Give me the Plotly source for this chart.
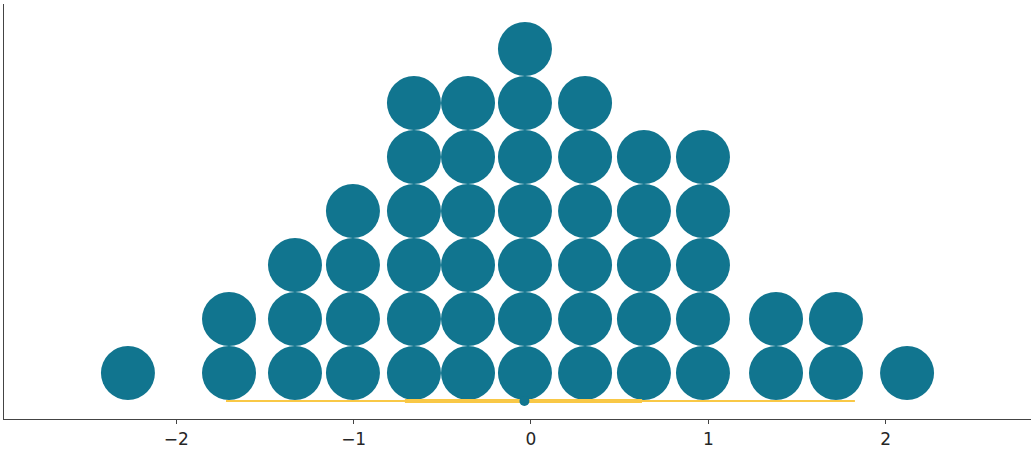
import plotly.graph_objects as go

# Dot plot data (bin centers and number of stacked dots)
dot_x = [-2.273, -1.703, -1.331, -1.004, -0.660, -0.355, -0.034, 0.305, 0.637, 0.970, 1.382, 1.720, 2.121]
dot_counts = [1, 2, 3, 4, 6, 6, 7, 6, 5, 5, 2, 2, 1]

# Point estimate and intervals
point_estimate = -0.037
inner_interval = [-0.711, 0.626]
outer_interval = [-1.72, 1.827]
interval_level = -0.52

tick_vals = [-2, -1, 0, 1, 2]
tick_text = ["\u22122", "\u22121", "0", "1", "2"]

xs, ys = [], []
for x, c in zip(dot_x, dot_counts):
    for k in range(c):
        xs.append(x)
        ys.append(k)

teal = "#11758F"
yellow = "#F9C846"

fig = go.Figure()
fig.add_trace(go.Scatter(x=xs, y=ys, mode="markers",
                         marker=dict(size=54, color=teal, line=dict(width=0)),
                         hoverinfo="x", showlegend=False))
fig.add_trace(go.Scatter(x=outer_interval, y=[interval_level] * 2, mode="lines",
                         line=dict(color=yellow, width=2), showlegend=False))
fig.add_trace(go.Scatter(x=inner_interval, y=[interval_level] * 2, mode="lines",
                         line=dict(color=yellow, width=4), showlegend=False))
fig.add_trace(go.Scatter(x=[point_estimate], y=[interval_level], mode="markers",
                         marker=dict(size=10, color=teal, line=dict(width=0)),
                         cliponaxis=False, showlegend=False))

fig.update_layout(
    width=1035, height=450,
    margin=dict(l=4, r=4, t=4, b=31, pad=0),
    plot_bgcolor="white", paper_bgcolor="white",
    template="none",
    font=dict(family="DejaVu Sans", size=17, color="#262626"),
)
fig.update_xaxes(range=[-2.972, 2.82], tickvals=tick_vals, ticktext=tick_text,
                 showgrid=False, zeroline=False, showline=True, linecolor="#444444",
                 linewidth=1.2, ticks="outside", ticklen=4, tickcolor="#444444",
                 tickfont=dict(family="DejaVu Sans", size=17, color="#262626"),
                 automargin=False)
fig.update_yaxes(range=[-0.852, 6.833], showticklabels=False, showgrid=False,
                 zeroline=False, showline=True, linecolor="#444444", linewidth=1.2,
                 ticks="", automargin=False)

fig.write_html("out.html", config={"displayModeBar": False},
               post_script="document.body.style.margin='0';document.body.style.padding='0';")
